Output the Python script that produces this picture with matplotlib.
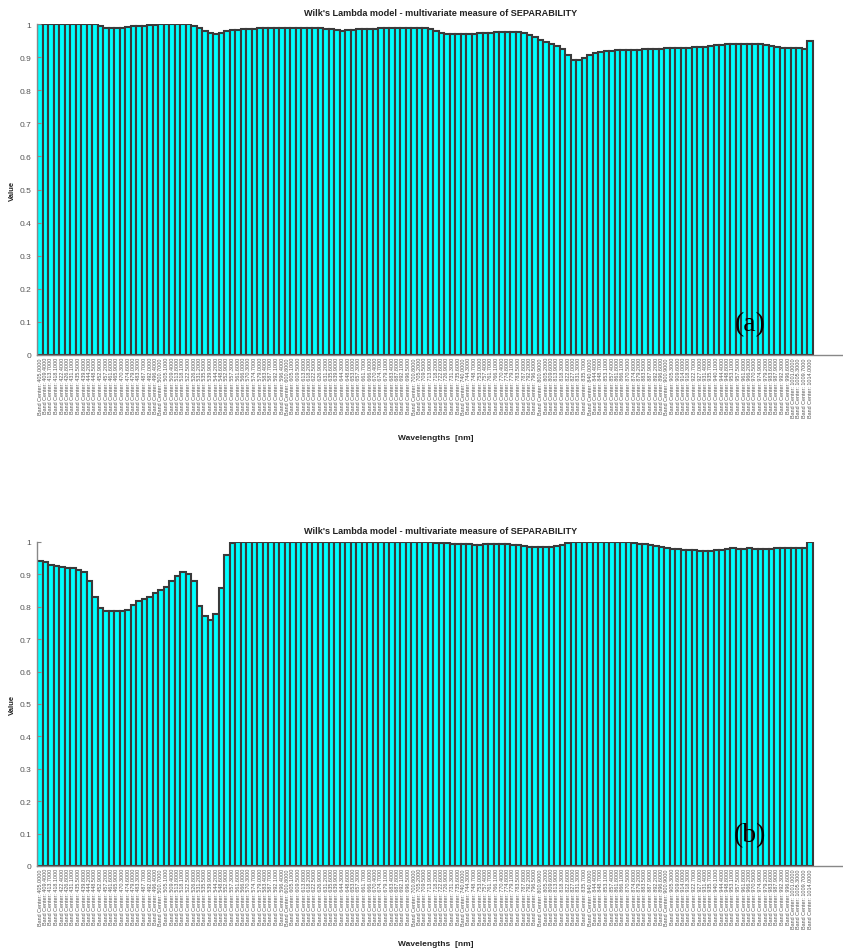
import matplotlib
matplotlib.use("Agg")
import matplotlib.pyplot as plt

# Band centres (nm) of the spectral channels
band_centers = [
    405.0, 409.4, 413.7, 418.1, 422.4, 426.8, 431.1, 435.5, 439.8, 444.2,
    448.5, 452.9, 457.2, 461.6, 465.9, 470.3, 474.6, 479.0, 483.3, 487.7,
    492.0, 496.4, 500.7, 505.1, 509.4, 513.8, 518.1, 522.5, 526.8, 531.2,
    535.5, 539.9, 544.2, 548.6, 552.9, 557.3, 561.6, 566.0, 570.3, 574.7,
    579.0, 583.4, 587.7, 592.1, 596.4, 600.8, 605.1, 609.5, 613.8, 618.2,
    622.5, 626.9, 631.2, 635.6, 639.9, 644.3, 648.6, 653.0, 657.3, 661.7,
    666.0, 670.4, 674.7, 679.1, 683.4, 687.8, 692.1, 696.5, 700.8, 705.2,
    709.5, 713.9, 718.2, 722.6, 726.9, 731.3, 735.6, 740.0, 744.3, 748.7,
    753.0, 757.4, 761.7, 766.1, 770.4, 774.8, 779.1, 783.5, 787.8, 792.2,
    796.5, 800.9, 805.2, 809.6, 813.9, 818.3, 822.6, 827.0, 831.3, 835.7,
    840.0, 844.4, 848.7, 853.1, 857.4, 861.8, 866.1, 870.5, 874.8, 879.2,
    883.5, 887.9, 892.2, 896.6, 900.9, 905.3, 909.6, 914.0, 918.3, 922.7,
    927.0, 931.4, 935.7, 940.1, 944.4, 948.8, 953.1, 957.5, 961.8, 966.2,
    970.5, 974.9, 979.2, 983.6, 987.9, 992.3, 996.6, 1001.0, 1005.3, 1009.7,
    1014.0,
]

# Wilk's lambda per band, case (a)
lambda_a = [
    1.000, 1.000, 1.000, 1.000, 1.000, 1.000, 1.000, 1.000, 1.000, 1.000,
    1.000, 0.993, 0.989, 0.988, 0.988, 0.989, 0.990, 0.993, 0.994, 0.995,
    0.996, 0.998, 0.999, 1.000, 1.000, 1.000, 1.000, 1.000, 0.993, 0.987,
    0.980, 0.973, 0.970, 0.974, 0.979, 0.982, 0.983, 0.984, 0.985, 0.986,
    0.987, 0.987, 0.987, 0.987, 0.987, 0.987, 0.987, 0.988, 0.988, 0.987,
    0.987, 0.987, 0.986, 0.984, 0.981, 0.980, 0.981, 0.983, 0.984, 0.985,
    0.985, 0.986, 0.987, 0.988, 0.988, 0.989, 0.989, 0.989, 0.989, 0.988,
    0.988, 0.986, 0.980, 0.974, 0.970, 0.970, 0.970, 0.970, 0.970, 0.971,
    0.972, 0.973, 0.974, 0.975, 0.975, 0.975, 0.975, 0.975, 0.972, 0.966,
    0.960, 0.953, 0.946, 0.940, 0.934, 0.925, 0.905, 0.892, 0.892, 0.897,
    0.906, 0.912, 0.916, 0.918, 0.919, 0.920, 0.921, 0.921, 0.922, 0.922,
    0.923, 0.923, 0.924, 0.925, 0.926, 0.926, 0.927, 0.928, 0.929, 0.930,
    0.931, 0.932, 0.934, 0.936, 0.938, 0.940, 0.941, 0.941, 0.941, 0.940,
    0.940, 0.939, 0.937, 0.935, 0.932, 0.929, 0.928, 0.927, 0.926, 0.925,
    0.950,
]

# Wilk's lambda per band, case (b)
lambda_b = [
    0.940, 0.938, 0.930, 0.926, 0.922, 0.920, 0.920, 0.915, 0.906, 0.879,
    0.831, 0.796, 0.788, 0.786, 0.786, 0.788, 0.791, 0.805, 0.817, 0.824,
    0.830, 0.843, 0.853, 0.860, 0.881, 0.894, 0.906, 0.901, 0.879, 0.801,
    0.771, 0.760, 0.778, 0.858, 0.959, 0.997, 1.000, 1.000, 1.000, 1.000,
    1.000, 1.000, 1.000, 1.000, 1.000, 1.000, 1.000, 1.000, 1.000, 1.000,
    1.000, 1.000, 1.000, 1.000, 1.000, 1.000, 1.000, 1.000, 1.000, 1.000,
    1.000, 1.000, 1.000, 1.000, 1.000, 1.000, 1.000, 1.000, 1.000, 1.000,
    1.000, 1.000, 0.998, 0.997, 0.996, 0.995, 0.994, 0.993, 0.993, 0.992,
    0.992, 0.993, 0.994, 0.994, 0.994, 0.993, 0.992, 0.990, 0.988, 0.986,
    0.985, 0.984, 0.984, 0.985, 0.988, 0.992, 0.997, 0.999, 1.000, 1.000,
    1.000, 1.000, 1.000, 1.000, 1.000, 1.000, 1.000, 0.999, 0.997, 0.995,
    0.993, 0.990, 0.987, 0.984, 0.981, 0.979, 0.977, 0.976, 0.975, 0.974,
    0.973, 0.972, 0.972, 0.974, 0.976, 0.979, 0.980, 0.979, 0.979, 0.980,
    0.979, 0.979, 0.979, 0.979, 0.980, 0.980, 0.981, 0.981, 0.982, 0.982,
    1.000,
]

panel_tags = ["(a)", "(b)"]
title_text = "Wilk's Lambda model - multivariate measure of SEPARABILITY"
y_ticks = [0, 0.1, 0.2, 0.3, 0.4, 0.5, 0.6, 0.7, 0.8, 0.9, 1.0]
y_tick_labels = ["0", "0.1", "0.2", "0.3", "0.4", "0.5", "0.6", "0.7", "0.8", "0.9", "1"]

W, H = 843, 953
fig = plt.figure(figsize=(W / 100, H / 100), dpi=100)
fig.patch.set_facecolor("white")

sans = ["Liberation Sans", "DejaVu Sans"]
grey = "#555555"
x_pos = list(range(len(band_centers)))
tick_texts = ["Band Center: %.4f" % w for w in band_centers]

# axes rectangles in pixels: left, top(value 1), right, bottom(value 0)
panels = [
    (lambda_a, (37, 25, 843, 356), 13, 439),
    (lambda_b, (37, 543, 843, 867), 532, 945),
]

for (values, (l, t, r, b), title_y, xlabel_y), tag in zip(panels, panel_tags):
    ax = fig.add_axes([l / W, 1 - b / H, (r - l) / W, (b - t) / H])
    ax.bar(x_pos, values, width=1.0, color="#00FFFF", edgecolor="#3a3a3a",
           linewidth=1.5, align="center")
    ax.set_ylim(0, 1)
    ax.set_xlim((l - 40) / 5.5, (r - 40) / 5.5)

    for side in ("top", "right"):
        ax.spines[side].set_visible(False)
    for side in ("left", "bottom"):
        ax.spines[side].set_color("#888888")
        ax.spines[side].set_linewidth(1.0)

    ax.set_yticks(y_ticks)
    ax.set_yticklabels(y_tick_labels, fontsize=6, color=grey, family=sans)
    ax.tick_params(axis="y", direction="in", length=3, width=0.8,
                   colors="#888888", pad=4)
    for lbl in ax.get_yticklabels():
        lbl.set_color(grey)

    ax.set_xticks(x_pos)
    ax.set_xticklabels(tick_texts, rotation=90, fontsize=3.9, color="#555555",
                       family=sans)
    ax.tick_params(axis="x", length=0, pad=1.5)

    fig.text(441 / W, 1 - title_y / H, title_text, ha="center", va="center",
             fontsize=6.6, fontweight="bold", family=sans, color="#222222")
    fig.text(12 / W, 1 - ((t + b) / 2) / H, "Value", ha="center", va="center",
             rotation=90, fontsize=5.5, fontweight="bold", family=sans,
             color="#222222")
    fig.text(436 / W, 1 - xlabel_y / H, "Wavelengths  [nm]", ha="center",
             va="center", fontsize=6, fontweight="bold", family=sans,
             color="#222222")
    fig.text(750 / W, 1 - (b - 31) / H, tag, ha="center", va="center",
             fontsize=20, family=["Liberation Serif", "DejaVu Serif"],
             color="black")

fig.savefig("out.png", dpi=100, facecolor="white")
